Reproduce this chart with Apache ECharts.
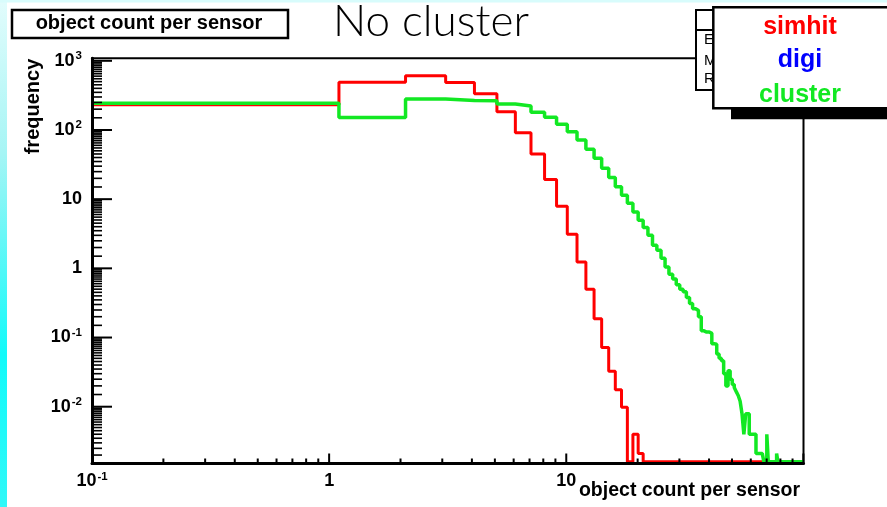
<!DOCTYPE html>
<html>
<head>
<meta charset="utf-8">
<script src="https://cdn.jsdelivr.net/npm/echarts@6/dist/echarts.min.js"></script>
<style>
  html, body { margin: 0; padding: 0; background: #fff; }
  #chart { width: 887px; height: 507px; }
</style>
</head>
<body>
<div id="chart"></div>
<script>
// Histogram binning: 100 unit-wide bins starting at 0.1
const binLow = 0.1;
const binWidth = 1;
const binCount = 100;

// Normalised frequency per bin (0 = empty bin)
const simhit = [
  232, 491, 606, 485, 333, 184, 91, 45, 19.3, 7.9,
  3.1, 1.23, 0.5, 0.187, 0.072, 0.0325, 0.0176, 0.0098, 0, 0.004,
  0.0021, 0, 0, 0, 0, 0, 0, 0, 0, 0,
  0, 0, 0, 0, 0, 0, 0, 0, 0, 0,
  0, 0, 0, 0, 0, 0, 0, 0, 0, 0,
  0, 0, 0, 0, 0, 0, 0, 0, 0, 0,
  0, 0, 0, 0, 0, 0, 0, 0, 0, 0,
  0, 0, 0, 0, 0, 0, 0, 0, 0, 0,
  0, 0, 0, 0, 0, 0, 0, 0, 0, 0,
  0, 0, 0, 0, 0, 0, 0, 0, 0, 0
];

const cluster = [
  244, 151, 281, 266, 264, 238, 223, 180, 153, 121,
  94.5, 71.6, 52.5, 38.9, 27.9, 20.6, 15.1, 11.4, 8.7, 6.55,
  4.96, 3.9, 3.0, 2.15, 1.82, 1.40, 1.05, 0.82, 0.70, 0.58,
  0.50, 0.46, 0.38, 0.31, 0.26, 0.245, 0.2, 0.125, 0.12, 0.12,
  0.115, 0.081, 0.08, 0.058, 0.05, 0.046, 0.03, 0.02, 0.033, 0.025,
  0.021, 0.019, 0.0165, 0.0145, 0.012, 0.0079, 0.004, 0.0079, 0.0079, 0.004,
  0.004, 0.004, 0.004, 0.0021, 0.0021, 0.0021, 0.0021, 0.0021, 0, 0,
  0.004, 0, 0, 0, 0, 0, 0, 0.0021, 0, 0,
  0, 0, 0, 0, 0, 0, 0, 0, 0, 0,
  0, 0, 0, 0, 0, 0, 0, 0, 0, 0
];

// Decade exponents that carry a tick label
const xLabelExponents = [-1, 0, 1];
const yLabelExponents = [-2, -1, 0, 1, 2, 3];

// Axis ranges
const xMin = 0.1, xMax = 100.1;
const yMin = 0.00151, yMax = 1087;

const legendItems = [
  { text: 'simhit', color: '#ff0000' },
  { text: 'digi', color: '#0000ff' },
  { text: 'cluster', color: '#12e823' }
];

const FONT = '"Liberation Sans", Arial, Helvetica, sans-serif';

const edges = Array.from({ length: binCount + 1 }, (_, i) => +(binLow + i * binWidth).toFixed(1));

// Turn bin contents into step-line points; empty bins rest on the frame floor
function histPoints(values) {
  const floor = yMin * 1.062;
  const pts = values.map((v, i) => [edges[i], v > 0 ? v : floor]);
  pts.push([edges[binCount], pts[pts.length - 1][1]]);
  return pts;
}

function decadeFormatter(exps) {
  return function (v) {
    const lg = Math.log10(v);
    const e = Math.round(lg);
    if (Math.abs(lg - e) > 1e-6 || exps.indexOf(e) < 0) return '';
    if (e === 0) return '{b|1}';
    if (e === 1) return '{b|10}';
    return '{b|10}{s|' + e + '}';
  };
}

const labelRich = {
  b: { fontFamily: FONT, fontWeight: 'bold', fontSize: 18, lineHeight: 22, color: '#000' },
  s: { fontFamily: FONT, fontWeight: 'bold', fontSize: 11.5, lineHeight: 11, color: '#000', verticalAlign: 'top', padding: [0, 0, 0, 1] }
};

// Tick positions: decades plus sub-decade ticks
const xMajorTicks = [0.1, 1, 10, 100];
const xMinorTicks = [];
[-1, 0, 1].forEach(e => { for (let k = 2; k <= 9; k++) xMinorTicks.push(k * Math.pow(10, e)); });
const yMajorTicks = [0.01, 0.1, 1, 10, 100, 1000];
const yMinorTicks = [];
[-3, -2, -1, 0, 1, 2, 3].forEach(e => {
  for (let k = 1.5; k < 10; k += 0.5) {
    const v = k * Math.pow(10, e);
    if (v > yMin && v < yMax) yMinorTicks.push(v);
  }
});

function renderTicks(params, api) {
  const origin = api.coord([xMin, yMin]);
  const left = origin[0], bottom = origin[1];
  const children = [];
  const seg = (x1, y1, x2, y2, w) => ({
    type: 'line', shape: { x1, y1, x2, y2 }, style: { stroke: '#000', lineWidth: w }
  });
  yMajorTicks.forEach(v => { const y = api.coord([xMin, v])[1]; children.push(seg(left, y, left + 20, y, 2)); });
  yMinorTicks.forEach(v => { const y = api.coord([xMin, v])[1]; children.push(seg(left, y, left + 10, y, 1.6)); });
  xMajorTicks.forEach(v => { const x = api.coord([v, yMin])[0]; children.push(seg(x, bottom, x, bottom - 10, 2)); });
  xMinorTicks.forEach(v => { const x = api.coord([v, yMin])[0]; children.push(seg(x, bottom, x, bottom - 5, 2)); });
  return { type: 'group', children };
}

const chart = echarts.init(document.getElementById('chart'), null, { renderer: 'canvas' });

const graphics = [
  // slide background strips
  {
    type: 'rect', z: 1, silent: true,
    shape: { x: 0, y: 0, width: 7, height: 507 },
    style: {
      fill: new echarts.graphic.LinearGradient(0, 0, 0, 1, [
        { offset: 0, color: '#e2fcfc' },
        { offset: 0.3, color: '#a6f5f5' },
        { offset: 0.7, color: '#12fafa' },
        { offset: 1, color: '#30f8f8' }
      ])
    }
  },
  { type: 'rect', z: 1, silent: true, shape: { x: 0, y: 0, width: 887, height: 2.5 }, style: { fill: '#d8fcfc' } },

  // histogram title box
  { type: 'rect', z: 50, shape: { x: 12, y: 10, width: 276, height: 28 }, style: { fill: '#fff', stroke: '#000', lineWidth: 2.5 } },
  {
    type: 'text', z: 51, x: 149, y: 23,
    style: { text: 'object count per sensor', font: 'bold 20px ' + FONT, fill: '#000', align: 'center', verticalAlign: 'middle', textAlign: 'center', textVerticalAlign: 'middle' }
  },

  // pad title
  {
    type: 'text', z: 51, x: 431, y: 22,
    style: { text: 'No cluster', font: '300 44px Lato, ' + FONT, fill: '#000', align: 'center', verticalAlign: 'middle', textAlign: 'center', textVerticalAlign: 'middle' }
  },

  // statistics box (mostly hidden behind the legend)
  { type: 'rect', z: 50, shape: { x: 696, y: 10, width: 180, height: 80 }, style: { fill: '#fff', stroke: '#000', lineWidth: 2 } },
  { type: 'line', z: 51, shape: { x1: 696, y1: 30, x2: 876, y2: 30 }, style: { stroke: '#000', lineWidth: 2 } },
  { type: 'text', z: 51, x: 704, y: 40, style: { text: 'Entries', font: '15px ' + FONT, fill: '#000', align: 'left', verticalAlign: 'middle', textAlign: 'left', textVerticalAlign: 'middle' } },
  { type: 'text', z: 51, x: 704, y: 61, style: { text: 'Mean', font: '15px ' + FONT, fill: '#000', align: 'left', verticalAlign: 'middle', textAlign: 'left', textVerticalAlign: 'middle' } },
  { type: 'text', z: 51, x: 704, y: 79, style: { text: 'RMS', font: '15px ' + FONT, fill: '#000', align: 'left', verticalAlign: 'middle', textAlign: 'left', textVerticalAlign: 'middle' } },

  // legend box with its drop shadow
  { type: 'rect', z: 60, shape: { x: 731, y: 100, width: 170, height: 19.3 }, style: { fill: '#000' } },
  { type: 'rect', z: 61, shape: { x: 713.3, y: 7.3, width: 190, height: 101 }, style: { fill: '#fff', stroke: '#000', lineWidth: 2.5 } },

  // axis titles
  {
    type: 'text', z: 51, x: 33.5, y: 106.5, rotation: Math.PI / 2,
    style: { text: 'frequency', font: 'bold 20px ' + FONT, fill: '#000', align: 'center', verticalAlign: 'middle', textAlign: 'center', textVerticalAlign: 'middle' }
  },
  {
    type: 'text', z: 51, x: 800, y: 491,
    style: { text: 'object count per sensor', font: 'bold 19.5px ' + FONT, fill: '#000', align: 'right', verticalAlign: 'middle', textAlign: 'right', textVerticalAlign: 'middle' }
  }
];

const legendY = [27.3, 60, 95.3];
legendItems.forEach((item, i) => {
  graphics.push({
    type: 'text', z: 62, x: 800, y: legendY[i],
    style: { text: item.text, font: 'bold 25px ' + FONT, fill: item.color, align: 'center', verticalAlign: 'middle', textAlign: 'center', textVerticalAlign: 'middle' }
  });
});

chart.setOption({
  animation: false,
  backgroundColor: '#fff',
  grid: {
    left: 92, right: 83.5, top: 58.3, bottom: 43.5,
    show: true, borderColor: '#000', borderWidth: 2, backgroundColor: '#fff'
  },
  xAxis: {
    type: 'log', logBase: 10, min: xMin, max: xMax, z: 3,
    axisLine: { show: true, onZero: false, lineStyle: { color: '#000', width: 3 } },
    axisTick: { show: false },
    splitLine: { show: false },
    axisLabel: { margin: 7, fontSize: 18, fontWeight: 'bold', fontFamily: FONT, formatter: decadeFormatter(xLabelExponents), rich: labelRich, showMinLabel: true, showMaxLabel: true, hideOverlap: false }
  },
  yAxis: {
    type: 'log', logBase: 10, min: yMin, max: yMax, z: 3,
    axisLine: { show: true, onZero: false, lineStyle: { color: '#000', width: 3 } },
    axisTick: { show: false },
    splitLine: { show: false },
    axisLabel: { margin: 10, fontSize: 18, fontWeight: 'bold', fontFamily: FONT, formatter: decadeFormatter(yLabelExponents), rich: labelRich, showMinLabel: true, showMaxLabel: true, hideOverlap: false }
  },
  graphic: graphics,
  series: [
    {
      name: 'simhit', type: 'line', step: 'end', data: histPoints(simhit),
      showSymbol: false, symbol: 'none', clip: true, z: 2,
      lineStyle: { color: '#ff0000', width: 3 }
    },
    {
      name: 'cluster', type: 'line', step: 'end', data: histPoints(cluster),
      showSymbol: false, symbol: 'none', clip: true, z: 2,
      lineStyle: { color: '#12e823', width: 3.5 }
    },
    {
      name: 'ticks', type: 'custom', data: [[1, 1]], z: 5, silent: true, clip: false,
      renderItem: renderTicks
    }
  ]
});
</script>
</body>
</html>
